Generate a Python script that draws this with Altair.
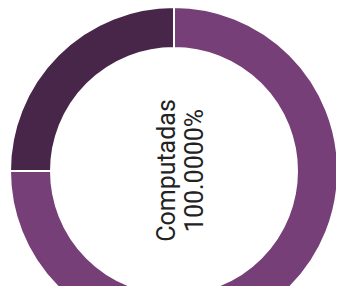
import altair as alt
import pandas as pd

categories = ["Computadas", "Restantes"]
values = [75, 25]
colors = ["#763f78", "#482649"]
label_name = "Computadas"
label_pct = "100.0000%"

df = pd.DataFrame({"cat": categories, "val": values, "order": [0, 1]})

CX, CY = 166, 163

arc = alt.Chart(df).mark_arc(
    outerRadius=164, innerRadius=123, stroke="white", strokeWidth=2
).encode(
    theta=alt.Theta("val:Q", stack=True),
    order=alt.Order("order:Q"),
    color=alt.Color("cat:N", scale=alt.Scale(domain=categories, range=colors), legend=None),
    x=alt.value(CX),
    y=alt.value(CY),
)

t1 = alt.Chart(pd.DataFrame({"t": [label_name]})).mark_text(
    angle=270, fontSize=25, font="Roboto", color="#222222", align="center", baseline="alphabetic"
).encode(text="t:N", x=alt.value(167), y=alt.value(162.5))

t2 = alt.Chart(pd.DataFrame({"t": [label_pct]})).mark_text(
    angle=270, fontSize=25, font="Roboto", color="#222222", align="center", baseline="alphabetic"
).encode(text="t:N", x=alt.value(195), y=alt.value(162.5))

chart = alt.layer(arc, t1, t2).properties(
    width=328, height=278, padding=0, autosize=alt.AutoSizeParams(type="none")
).configure_view(stroke=None)

chart.save("out.html", embed_options={"renderer": "svg", "actions": False})
